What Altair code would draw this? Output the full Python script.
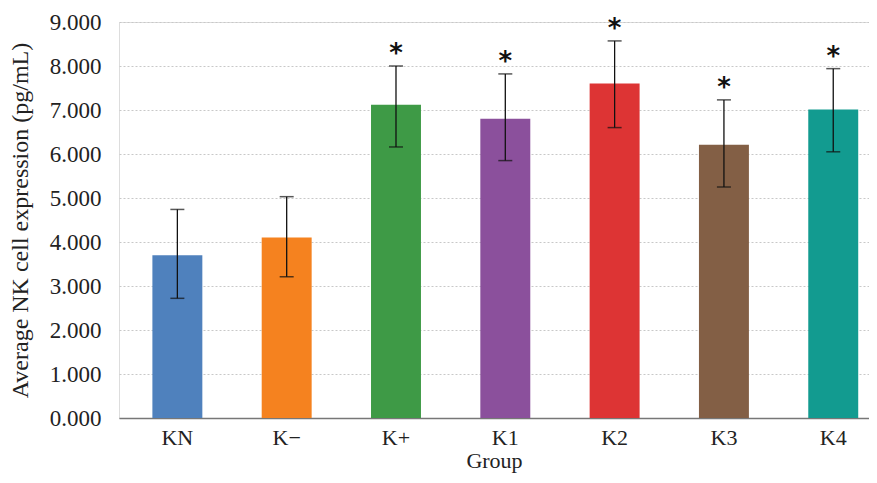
import altair as alt
import pandas as pd

groups = ["KN", "K\u2212", "K+", "K1", "K2", "K3", "K4"]
means = [3.70, 4.10, 7.12, 6.80, 7.60, 6.21, 7.01]
err_low = [2.72, 3.21, 6.16, 5.85, 6.60, 5.25, 6.05]
err_high = [4.74, 5.03, 8.00, 7.82, 8.57, 7.23, 7.94]
stars = ["", "", "*", "*", "*", "*", "*"]
colors = ["#4f81bd", "#f5821f", "#3e9a46", "#8b509c", "#dd3434", "#835f45", "#129b90"]

df = pd.DataFrame({"group": groups, "mean": means, "lo": err_low, "hi": err_high, "star": stars})

FONT = "Liberation Serif"

x_scale = alt.Scale(paddingInner=0.543, paddingOuter=0.202, align=0.756)
y_scale = alt.Scale(domain=[0, 9])

xenc = alt.X("group:N", sort=groups, title="Group", scale=x_scale,
             axis=alt.Axis(labelAngle=0, ticks=False, grid=False, domain=True))
yenc_title = "Average NK cell expression (pg/mL)"

bars = alt.Chart(df).mark_bar().encode(
    x=xenc,
    y=alt.Y("mean:Q", scale=y_scale, title=yenc_title,
            axis=alt.Axis(values=list(range(10)), format=".3f", domain=False, ticks=False, grid=True)),
    color=alt.Color("group:N", sort=groups, scale=alt.Scale(domain=groups, range=colors), legend=None),
)

rules = alt.Chart(df).mark_rule(color="#111", strokeWidth=1.3).encode(
    x=alt.X("group:N", sort=groups, title="Group"),
    y=alt.Y("lo:Q", scale=y_scale, title=yenc_title), y2="hi:Q")

caps_hi = alt.Chart(df).mark_tick(color="#111", thickness=1.5, size=14).encode(
    x=alt.X("group:N", sort=groups, title="Group"), y=alt.Y("hi:Q", scale=y_scale, title=yenc_title))
caps_lo = alt.Chart(df).mark_tick(color="#111", thickness=1.5, size=14).encode(
    x=alt.X("group:N", sort=groups, title="Group"), y=alt.Y("lo:Q", scale=y_scale, title=yenc_title))

star_txt = alt.Chart(df).mark_text(fontSize=26, font="DejaVu Sans", fontWeight="bold", dy=-12,
                                   baseline="middle", color="#111").encode(
    x=alt.X("group:N", sort=groups, title="Group"),
    y=alt.Y("hi:Q", scale=y_scale, title=yenc_title), text="star:N")

chart = alt.layer(bars, rules, caps_hi, caps_lo, star_txt).properties(
    width=750, height=396,
    autosize=alt.AutoSizeParams(type="none"),
    padding={"left": 111, "top": 14, "right": 0, "bottom": 57},
).configure_view(stroke="transparent", strokeWidth=0).configure(background="white").configure_axis(
    labelFont=FONT, titleFont=FONT, labelColor="#222", titleColor="#222",
    titleFontWeight="normal",
).configure_axisX(
    labelFontSize=22, titleFontSize=22, domainColor="#777", domainWidth=1.5,
    labelPadding=9, titlePadding=2, ticks=False,
).configure_axisY(
    labelFontSize=23, titleFontSize=24, gridColor="#c8c8c8", gridDash=[2, 2], gridWidth=1,
    labelPadding=18, titlePadding=17, domain=False, ticks=False,
)

chart.save("out.html", embed_options={"renderer": "svg", "actions": False})
